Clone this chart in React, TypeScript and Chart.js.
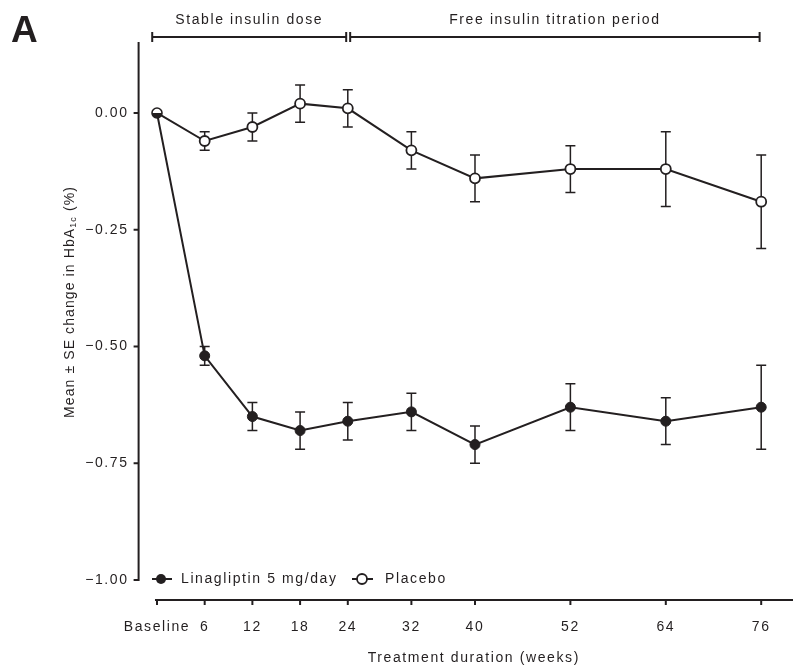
import React, { useEffect, useRef } from "react";
import { Chart, registerables } from "chart.js";

Chart.register(...registerables);

// ---- data ----
const weeks = [0, 6, 12, 18, 24, 32, 40, 52, 64, 76];
const weekLabels = ["Baseline", "6", "12", "18", "24", "32", "40", "52", "64", "76"];
const linaMean = [0, -0.52, -0.65, -0.68, -0.66, -0.64, -0.71, -0.63, -0.66, -0.63];
const linaSE = [0, 0.02, 0.03, 0.04, 0.04, 0.04, 0.04, 0.05, 0.05, 0.09];
const placeboMean = [0, -0.06, -0.03, 0.02, 0.01, -0.08, -0.14, -0.12, -0.12, -0.19];
const placeboSE = [0, 0.02, 0.03, 0.04, 0.04, 0.04, 0.05, 0.05, 0.08, 0.1];
const yTickValues = [-1, -0.75, -0.5, -0.25, 0];
const periodLabels = ["Stable insulin dose", "Free insulin titration period"];
const periodStarts = [-0.6, 24.3];
const periodEnds = [23.8, 75.8];
const seriesNames = ["Linagliptin 5 mg/day", "Placebo"];

const INK = "#231f20";
const FONT = "'Liberation Sans', Arial, Helvetica, sans-serif";
const LS = "1.6px";

function makeHalfMarker(): HTMLCanvasElement {
  const c = document.createElement("canvas");
  c.width = 14;
  c.height = 14;
  const g = c.getContext("2d")!;
  const cx = 7, cy = 7, r = 5;
  g.fillStyle = "#ffffff";
  g.beginPath();
  g.arc(cx, cy, r, Math.PI, 2 * Math.PI);
  g.closePath();
  g.fill();
  g.fillStyle = INK;
  g.beginPath();
  g.arc(cx, cy, r, 0, Math.PI);
  g.closePath();
  g.fill();
  g.strokeStyle = INK;
  g.lineWidth = 1.6;
  g.beginPath();
  g.arc(cx, cy, r, 0, 2 * Math.PI);
  g.stroke();
  return c;
}

const customPlugin = {
  id: "customDraw",
  beforeUpdate(chart: any) {
    chart.ctx.letterSpacing = LS;
  },
  beforeDraw(chart: any) {
    const ctx = chart.ctx;
    ctx.letterSpacing = LS;
    ctx.save();
    ctx.fillStyle = "#ffffff";
    ctx.fillRect(0, 0, chart.width, chart.height);
    ctx.restore();
  },
  beforeDatasetsDraw(chart: any) {
    const ctx = chart.ctx;
    const ys = chart.scales.y;
    const seList = [placeboSE, linaSE];
    const meanList = [placeboMean, linaMean];
    ctx.save();
    ctx.strokeStyle = INK;
    ctx.lineWidth = 1.5;
    for (let d = 0; d < 2; d++) {
      const meta = chart.getDatasetMeta(d);
      meta.data.forEach((pt: any, i: number) => {
        const se = seList[d][i];
        if (!se) return;
        const x = pt.x;
        const yt = ys.getPixelForValue(meanList[d][i] + se);
        const yb = ys.getPixelForValue(meanList[d][i] - se);
        ctx.beginPath();
        ctx.moveTo(x, yt);
        ctx.lineTo(x, yb);
        ctx.moveTo(x - 5, yt);
        ctx.lineTo(x + 5, yt);
        ctx.moveTo(x - 5, yb);
        ctx.lineTo(x + 5, yb);
        ctx.stroke();
      });
    }
    ctx.restore();
  },
  afterDraw(chart: any) {
    const ctx = chart.ctx;
    const xs = chart.scales.x;
    const ys = chart.scales.y;
    const area = chart.chartArea;
    ctx.save();
    ctx.strokeStyle = INK;
    ctx.fillStyle = INK;

    // y axis (offset)
    const yAxisX = area.left - 16;
    ctx.lineWidth = 2;
    ctx.beginPath();
    ctx.moveTo(yAxisX, area.top);
    ctx.lineTo(yAxisX, ys.getPixelForValue(-1) + 1);
    ctx.stroke();
    yTickValues.forEach((v) => {
      const y = ys.getPixelForValue(v);
      ctx.beginPath();
      ctx.moveTo(yAxisX - 5, y);
      ctx.lineTo(yAxisX, y);
      ctx.stroke();
    });

    // x axis (offset)
    const xAxisY = area.bottom + 20;
    ctx.beginPath();
    ctx.moveTo(xs.getPixelForValue(0) - 2, xAxisY);
    ctx.lineTo(chart.width, xAxisY);
    ctx.stroke();
    weeks.forEach((w) => {
      const x = xs.getPixelForValue(w);
      ctx.beginPath();
      ctx.moveTo(x, xAxisY);
      ctx.lineTo(x, xAxisY + 5);
      ctx.stroke();
    });

    // period brackets
    const by = 37;
    ctx.lineWidth = 2;
    ctx.font = `14px ${FONT}`;
    ctx.textAlign = "center";
    ctx.textBaseline = "middle";
    periodLabels.forEach((lab, i) => {
      const x1 = xs.getPixelForValue(periodStarts[i]);
      const x2 = xs.getPixelForValue(periodEnds[i]);
      ctx.beginPath();
      ctx.moveTo(x1, by);
      ctx.lineTo(x2, by);
      ctx.moveTo(x1, by - 5);
      ctx.lineTo(x1, by + 5);
      ctx.moveTo(x2, by - 5);
      ctx.lineTo(x2, by + 5);
      ctx.stroke();
      ctx.fillText(lab, (x1 + x2) / 2, 20);
    });

    // legend
    const ly = 579;
    ctx.textAlign = "left";
    ctx.lineWidth = 2;
    ctx.beginPath();
    ctx.moveTo(152, ly);
    ctx.lineTo(172, ly);
    ctx.stroke();
    ctx.beginPath();
    ctx.arc(161, ly, 5, 0, Math.PI * 2);
    ctx.fill();
    ctx.fillText(seriesNames[0], 181, ly);
    ctx.beginPath();
    ctx.moveTo(352, ly);
    ctx.lineTo(373, ly);
    ctx.stroke();
    ctx.beginPath();
    ctx.arc(362, ly, 5, 0, Math.PI * 2);
    ctx.fillStyle = "#ffffff";
    ctx.fill();
    ctx.lineWidth = 1.8;
    ctx.stroke();
    ctx.fillStyle = INK;
    ctx.fillText(seriesNames[1], 385, ly);

    // panel letter
    ctx.letterSpacing = "0px";
    ctx.font = `bold 37px ${FONT}`;
    ctx.textBaseline = "alphabetic";
    ctx.fillText("A", 11, 42);

    // y title with subscript
    ctx.letterSpacing = "1.1px";
    ctx.translate(70, 302);
    ctx.rotate(-Math.PI / 2);
    ctx.textBaseline = "middle";
    const main = "Mean \u00b1 SE change in HbA";
    const sub = "1c";
    const tail = " (%)";
    ctx.font = `14px ${FONT}`;
    const w1 = ctx.measureText(main).width;
    const w3 = ctx.measureText(tail).width;
    ctx.font = `9px ${FONT}`;
    const w2 = ctx.measureText(sub).width;
    const x0 = -(w1 + w2 + w3) / 2;
    ctx.font = `14px ${FONT}`;
    ctx.fillText(main, x0, 0);
    ctx.font = `9px ${FONT}`;
    ctx.fillText(sub, x0 + w1, 4);
    ctx.font = `14px ${FONT}`;
    ctx.fillText(tail, x0 + w1 + w2, 0);
    ctx.letterSpacing = LS;
    ctx.restore();
  },
};

export default function App() {
  const ref = useRef<HTMLCanvasElement | null>(null);
  useEffect(() => {
    if (!ref.current) return;
    const half = makeHalfMarker();
    const chart = new Chart(ref.current, {
      type: "line",
      data: {
        datasets: [
          {
            label: seriesNames[1],
            data: weeks.map((w, i) => ({ x: w, y: placeboMean[i] })),
            borderColor: INK,
            borderWidth: 2,
            pointRadius: 5,
            pointBackgroundColor: "#ffffff",
            pointBorderColor: INK,
            pointBorderWidth: 1.8,
            pointStyle: weeks.map((_, i) => (i === 0 ? half : "circle")) as any,
            tension: 0,
            clip: false,
          },
          {
            label: seriesNames[0],
            data: weeks.map((w, i) => ({ x: w, y: linaMean[i] })),
            borderColor: INK,
            borderWidth: 2,
            pointRadius: weeks.map((_, i) => (i === 0 ? 0 : 5)) as any,
            pointBackgroundColor: INK,
            pointBorderColor: INK,
            pointBorderWidth: 1,
            tension: 0,
            clip: false,
          },
        ],
      },
      options: {
        animation: false,
        responsive: true,
        maintainAspectRatio: false,
        layout: { autoPadding: false, padding: { top: 42, left: 0, right: 0, bottom: 0 } },
        plugins: {
          legend: { display: false },
          tooltip: { enabled: false },
        },
        scales: {
          x: {
            type: "linear",
            min: -0.3,
            max: 80,
            grid: { display: false, drawTicks: false },
            border: { display: false },
            afterBuildTicks: (s: any) => {
              s.ticks = weeks.map((v) => ({ value: v }));
            },
            afterFit: (s: any) => {
              s.height = 85;
              s.paddingLeft = 0;
              s.paddingRight = 0;
            },
            ticks: {
              autoSkip: false,
              maxRotation: 0,
              minRotation: 0,
              padding: 5,
              color: INK,
              font: { size: 14, family: FONT, lineHeight: 2 },
              callback: (v: any) => ["", weekLabels[weeks.indexOf(Number(v))] ?? ""],
            },
            title: {
              display: true,
              text: "Treatment duration (weeks)",
              color: INK,
              font: { size: 14, family: FONT, lineHeight: 1 },
              padding: { top: 0, bottom: 0 },
            },
          },
          y: {
            type: "linear",
            min: -1,
            max: 0.152,
            grid: { display: false, drawTicks: false },
            border: { display: false },
            afterBuildTicks: (s: any) => {
              s.ticks = yTickValues.map((v) => ({ value: v }));
            },
            afterFit: (s: any) => {
              s.width = 154.6;
              s.paddingTop = 0;
              s.paddingBottom = 0;
            },
            ticks: {
              padding: 26,
              color: INK,
              font: { size: 14, family: FONT },
              callback: (v: any) => {
                const n = Number(v);
                return (n < 0 ? "\u2212" : "") + Math.abs(n).toFixed(2);
              },
            },
          },
        },
      },
      plugins: [customPlugin as any],
    });
    return () => chart.destroy();
  }, []);

  return (
    <div
      style={{
        position: "fixed",
        left: 0,
        top: 0,
        width: 793,
        height: 665,
        overflow: "hidden",
        background: "#fff",
      }}
    >
      <canvas ref={ref} style={{ display: "block" }} />
    </div>
  );
}
